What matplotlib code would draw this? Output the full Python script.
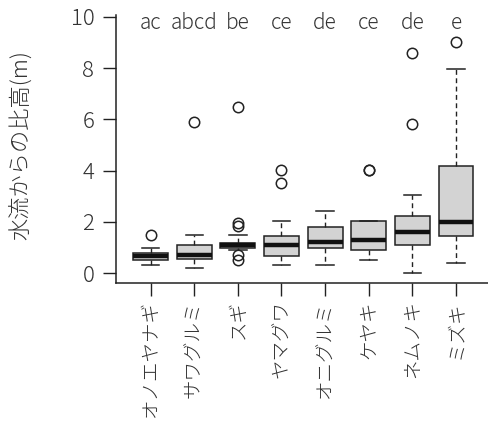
import matplotlib
matplotlib.use("Agg")
import matplotlib.pyplot as plt

plt.rcParams['font.family'] = ['Noto Sans CJK JP', 'DejaVu Sans']
plt.rcParams['font.weight'] = 'light'

species = ["オノエヤナギ", "サワグルミ", "スギ", "ヤマグワ", "オニグルミ", "ケヤキ", "ネムノキ", "ミズキ"]
letters = ["ac", "abcd", "be", "ce", "de", "ce", "de", "e"]
whislo = [0.31, 0.22, 0.90, 0.31, 0.31, 0.51, 0.00, 0.40]
q1 = [0.51, 0.56, 0.99, 0.69, 0.99, 0.89, 1.11, 1.47]
med = [0.69, 0.70, 1.09, 1.09, 1.20, 1.29, 1.59, 2.00]
q3 = [0.79, 1.09, 1.18, 1.47, 1.81, 2.02, 2.24, 4.19]
whishi = [0.99, 1.48, 1.48, 2.02, 2.41, 2.02, 3.07, 7.96]
fliers = [[1.51], [5.90], [6.50, 1.97, 1.84, 0.70, 0.53], [4.01, 3.53], [], [4.02, 4.02], [8.60, 5.81], [9.00]]
ylabel = "水流からの比高(m)"
yticks = [0, 2, 4, 6, 8, 10]

fig = plt.figure(figsize=(4.89, 4.26), dpi=100)
ax = fig.add_axes([0.237, 0.3357, 0.763, 0.6291])

stats = []
for i in range(len(species)):
    stats.append(dict(med=med[i], q1=q1[i], q3=q3[i], whislo=whislo[i], whishi=whishi[i], fliers=fliers[i]))

ec = '#222222'
ax.bxp(stats, positions=list(range(1, len(species) + 1)), widths=0.8, patch_artist=True,
       boxprops=dict(facecolor='#d3d3d3', edgecolor=ec, linewidth=1.1),
       medianprops=dict(color='#111111', linewidth=3.2, solid_capstyle='butt'),
       whiskerprops=dict(color=ec, linewidth=1.0, linestyle=(0, (3.5, 2.5))),
       capprops=dict(color=ec, linewidth=1.1),
       capwidths=0.4,
       flierprops=dict(marker='o', markerfacecolor='none', markeredgecolor=ec, markersize=7.5, markeredgewidth=1.1))

for i, lab in enumerate(letters):
    ax.text(i + 1, 9.54, lab, ha='center', va='baseline', fontsize=15, color='#333333', fontweight='light')

ax.set_xlim(0.204, 8.757)
ax.set_ylim(-0.38, 10.07)
ax.set_yticks(yticks)
ax.set_yticklabels([str(v) for v in yticks], fontsize=16, color='#333333', fontweight='light')
ax.set_xticks(list(range(1, len(species) + 1)))
ax.set_xticklabels(species, rotation=90, fontsize=14, color='#333333', va='top', fontweight='light')
ax.tick_params(axis='y', length=9.5, width=1.0, pad=6, color=ec)
ax.tick_params(axis='x', length=9.5, width=1.0, pad=3, color=ec)
for s in ['top', 'right']:
    ax.spines[s].set_visible(False)
for s in ['left', 'bottom']:
    ax.spines[s].set_linewidth(1.1)
    ax.spines[s].set_color(ec)

ax.set_ylabel(ylabel, fontsize=16, color='#333333', fontweight='light')
ax.yaxis.set_label_coords(-0.226, 0.515)

fig.savefig("out.png", dpi=100)
